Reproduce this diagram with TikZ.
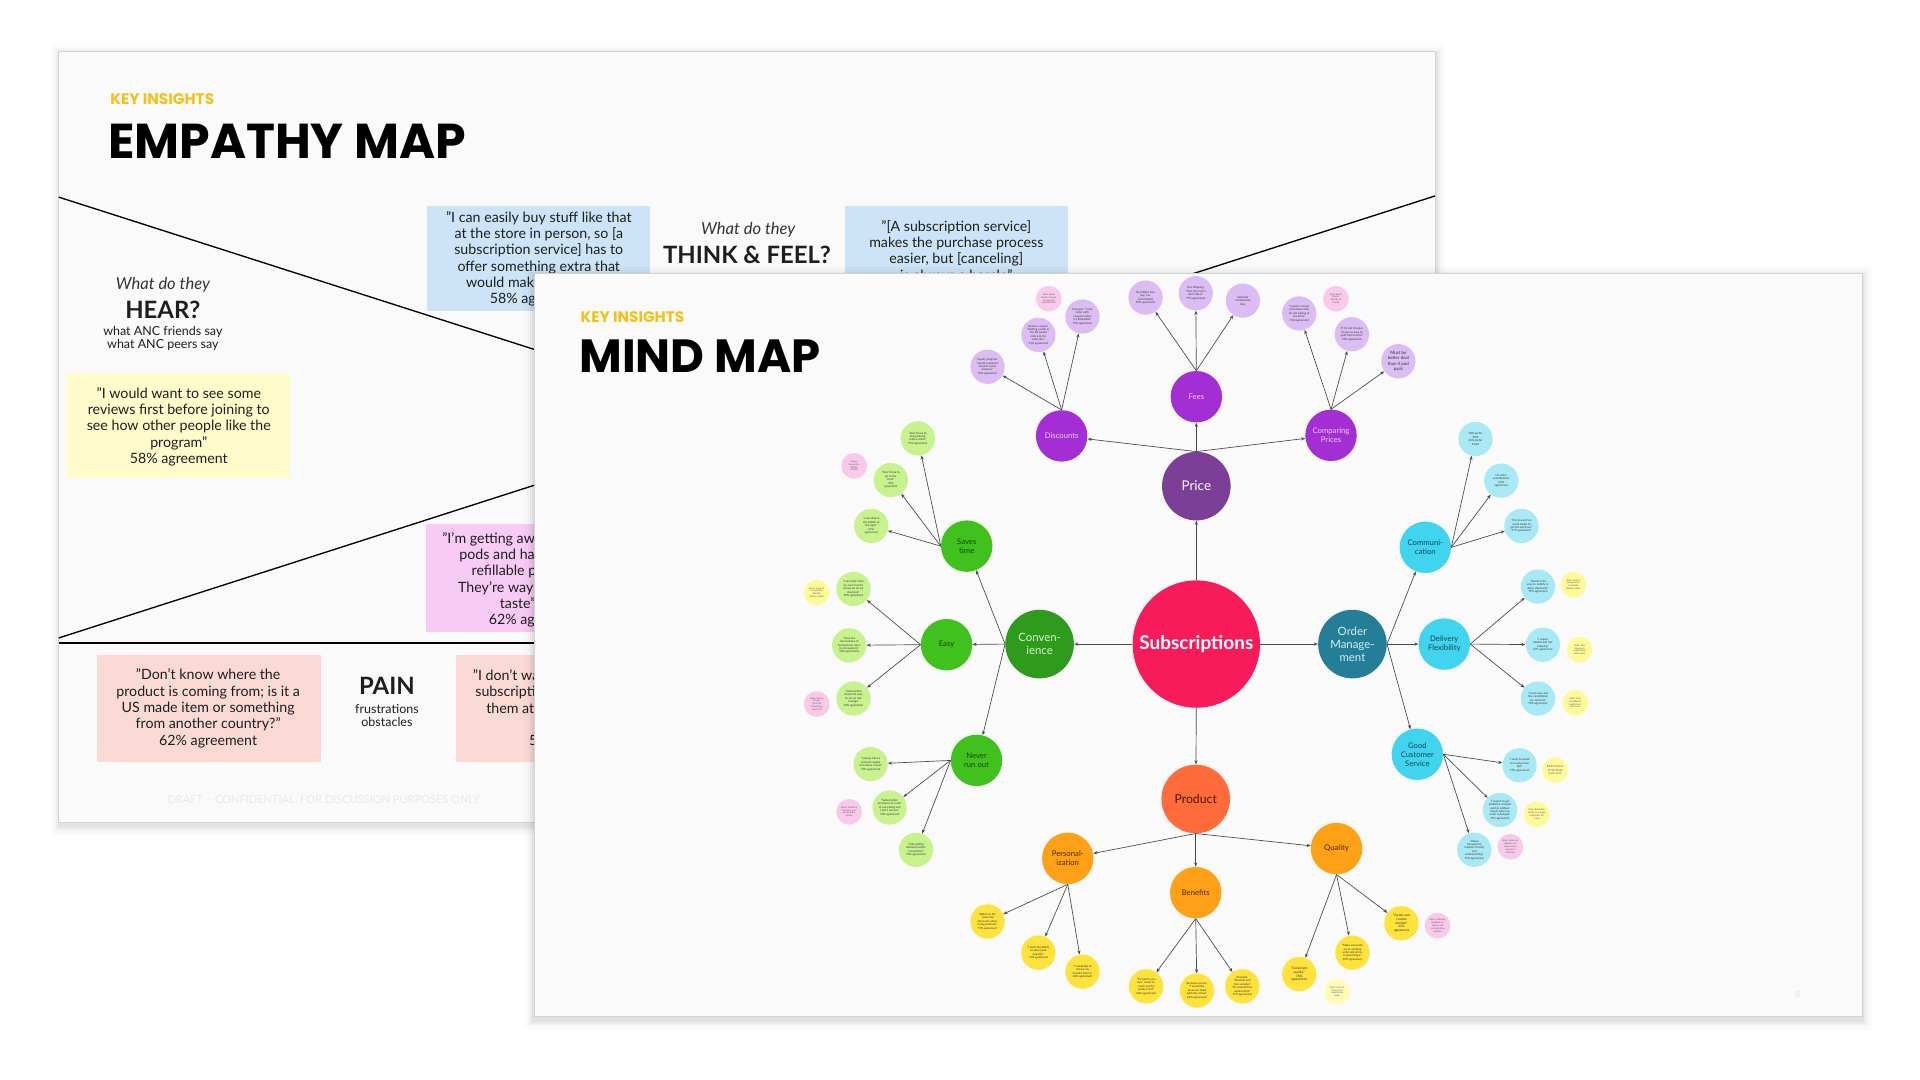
\documentclass[tikz,border=0pt]{standalone}
\usepackage{fontspec}
\setmainfont{Lato}
\newfontfamily\titlefont{Poppins}
\usetikzlibrary{arrows.meta}
\definecolor{slidebg}{HTML}{FAFAFA}
\definecolor{slideedge}{HTML}{D4D4D4}
\definecolor{keyyellow}{HTML}{F2C21B}
\definecolor{textdark}{HTML}{1E1E1E}
\definecolor{boxyellow}{HTML}{FFFBCB}
\definecolor{boxblue}{HTML}{CCE3F8}
\definecolor{boxpink}{HTML}{FBDAD6}
\definecolor{boxmagenta}{HTML}{F8CBF6}
\definecolor{drafttxt}{HTML}{E9E9E9}
\definecolor{cSub}{HTML}{F71B5B}
\definecolor{cPrice}{HTML}{7C3F97}
\definecolor{cPurple}{HTML}{A32FD4}
\definecolor{cPurpleTxt}{HTML}{EBCFF8}
\definecolor{cPurpleLeaf}{HTML}{DCBDF3}
\definecolor{cConv}{HTML}{2F9B1D}
\definecolor{cConvTxt}{HTML}{DDF6D0}
\definecolor{cGreen}{HTML}{41C11E}
\definecolor{cGreenTxt}{HTML}{124A07}
\definecolor{cGreenLeaf}{HTML}{C8F28E}
\definecolor{cOrder}{HTML}{247E97}
\definecolor{cOrderTxt}{HTML}{D3F0F7}
\definecolor{cCyan}{HTML}{40D4EE}
\definecolor{cCyanTxt}{HTML}{0C4B5A}
\definecolor{cCyanLeaf}{HTML}{A9E9F6}
\definecolor{cProduct}{HTML}{FF6B3B}
\definecolor{cProductTxt}{HTML}{4A1600}
\definecolor{cOrange}{HTML}{FFA116}
\definecolor{cOrangeTxt}{HTML}{4F2600}
\definecolor{cYellowLeaf}{HTML}{FFE23B}
\definecolor{cPink}{HTML}{F9C9EA}
\definecolor{cYellowNote}{HTML}{FFFA98}
\definecolor{cPaleNote}{HTML}{FFFBB8}
\definecolor{cEdge}{HTML}{4A4A4A}
\definecolor{leaftxt}{HTML}{333333}
\tikzset{
  slide/.style={fill=slidebg, draw=slideedge, line width=0.6pt},
  divline/.style={draw=black, line width=1.1pt},
  txt/.style={inner sep=0pt, text=textdark},
  body/.style={txt, align=center, font=\fontsize{11.6}{13.3}\selectfont},
  bodyw/.style={txt, anchor=base west, font=\fontsize{11.6}{13.3}\selectfont},
  small/.style={txt, align=center, font=\fontsize{10.2}{11}\selectfont},
  hand/.style={txt, text=black!80, font=\fontsize{13.5}{15}\itshape},
  quad/.style={txt, font=\fontsize{19.5}{21}\bfseries},
  keyins/.style={txt, anchor=west, text=keyyellow, font=\titlefont\bfseries\fontsize{12.5}{14}\selectfont},
  bigtitle/.style={txt, anchor=west, text=black, font=\titlefont\bfseries\fontsize{40}{44}\selectfont},
  mm/.style={circle, inner sep=0pt, align=center},
  lvl0/.style={mm, minimum size=104, fill=cSub, text=white, font=\fontsize{15.5}{17}\bfseries},
  lvl1/.style={mm, minimum size=56, font=\fontsize{9.3}{10.8}\selectfont},
  lvl2/.style={mm, minimum size=42, font=\fontsize{6.3}{7.4}\selectfont},
  purple2/.style={lvl2, fill=cPurple, text=cPurpleTxt},
  green2/.style={lvl2, fill=cGreen, text=cGreenTxt},
  cyan2/.style={lvl2, fill=cCyan, text=cCyanTxt},
  orange2/.style={lvl2, fill=cOrange, text=cOrangeTxt},
  leaf/.style={mm, minimum size=28, text=leaftxt, font=\fontsize{2.3}{2.8}\selectfont},
  pleaf/.style={leaf, fill=cPurpleLeaf},
  gleaf/.style={leaf, fill=cGreenLeaf},
  cleaf/.style={leaf, fill=cCyanLeaf},
  yleaf/.style={leaf, fill=cYellowLeaf},
  note/.style={mm, minimum size=21, text=leaftxt!80, font=\fontsize{1.9}{2.3}\selectfont},
  pnote/.style={note, fill=cPink},
  ynote/.style={note, fill=cYellowNote},
  wnote/.style={note, fill=cPaleNote},
  edge/.style={draw=cEdge, line width=0.55pt, -{Stealth[length=3.4pt,width=2.6pt]}},
}
\begin{document}
\begin{tikzpicture}[x=1pt,y=-1pt]
\useasboundingbox (0,0) rectangle (1568,882);
\fill[white] (0,0) rectangle (1568,882);

% ---------- Empathy map slide ----------
\foreach \d/\o in {7/0.015,5/0.02,3/0.03,1.5/0.04}{
  \fill[black,opacity=\o] (48-\d+1,42-\d+2) rectangle (1172+\d+1,672+\d+3);
}
\filldraw[slide] (48,42) rectangle (1172,672);

\draw[divline] (48,161) -- (1172,521);
\draw[divline] (48,521) -- (1172,160);
\draw[divline] (48,525) -- (1172,525);

\node[keyins] (ekey) at (90,81) {KEY INSIGHTS};
\node[bigtitle] (etitle) at (88,115) {EMPATHY MAP};

% hear
\node[hand] (hearq) at (133,233) {What do they};
\node[quad] (hear) at (133,253) {HEAR?};
\node[small] (hearsub) at (133,276.5) {what ANC friends say\\what ANC peers say};

\fill[boxyellow] (55,305) rectangle (237,390);
\node[body] (qyellow) at (146,348.5) {"I would want to see some\\reviews first before joining to\\see how other people like the\\program"\\58\% agreement};

% think & feel
\fill[boxblue] (349,168) rectangle (531,254);
\node[body] (qblue1) at (440,211.5) {"I can easily buy stuff like that\\at the store in person, so [a\\subscription service] has to\\offer something extra that\\would make it worth it"\\58\% agreement};
\node[hand] (thinkq) at (611,188) {What do they};
\node[quad] (think) at (610,208) {THINK \& FEEL?};
\fill[boxblue] (690,168) rectangle (872,254);
\node[body] (qblue2) at (781,205.5) {"[A subscription service]\\makes the purchase process\\easier, but [canceling]\\is always a hassle"};

% gain box (magenta)
\fill[boxmagenta] (348,428) rectangle (530,516);
\node[bodyw] (qm1) at (361,444) {"I'm getting away from};
\node[bodyw] (qm2) at (375,457) {pods and have a};
\node[bodyw] (qm3) at (385,470) {refillable pod.};
\node[bodyw] (qm4) at (374,484) {They're way better};
\node[bodyw] (qm5) at (408,497) {taste"};
\node[bodyw] (qm6) at (399,510) {62\% agreement};

% pain
\fill[boxpink] (79,535) rectangle (262,622);
\node[body] (qpink1) at (170,578.5) {"Don't know where the\\product is coming from; is it a\\US made item or something\\from another country?"\\62\% agreement};
\node[quad] (pain) at (316,560) {PAIN};
\node[small] (painsub) at (316,584.5) {frustrations\\obstacles};
\fill[boxpink] (372,535) rectangle (555,622);
\node[bodyw] (qp1) at (386,556) {"I don't want another};
\node[bodyw] (qp2) at (388,569) {subscription for};
\node[bodyw] (qp3) at (397,583) {them at all"};
\node[bodyw] (qp5) at (432,609) {55\% agreement};

\node[txt, text=drafttxt, font=\fontsize{9}{10}\selectfont] (draft) at (265,653) {DRAFT -- CONFIDENTIAL. FOR DISCUSSION PURPOSES ONLY.};

% ---------- Mind map slide ----------
\foreach \d/\o in {8/0.015,5/0.025,3/0.035,1.5/0.045}{
  \fill[black,opacity=\o] (436-\d,223-\d+2) rectangle (1521+\d,830+\d+3);
}
\filldraw[slide] (436,223) rectangle (1521,830);
\node[keyins] (mkey) at (474,259) {KEY INSIGHTS};
\node[bigtitle, font=\titlefont\bfseries\fontsize{38}{41}\selectfont] (mtitle) at (473,291) {MIND MAP};
\node[txt, text=black!12, font=\fontsize{7}{8}\selectfont] (pagenum) at (1468,812) {8};

% level 0 and 1
\node[lvl0] (sub) at (977,526) {Subscriptions};
\node[lvl1, fill=cPrice, text=white, font=\fontsize{11}{12}\selectfont] (price) at (977,397) {Price};
\node[lvl1, fill=cConv, text=cConvTxt] (conv) at (849,526) {Conven-\\ience};
\node[lvl1, fill=cOrder, text=cOrderTxt] (order) at (1104.5,526) {Order\\Manage-\\ment};
\node[lvl1, fill=cProduct, text=cProductTxt, font=\fontsize{10}{11}\selectfont] (product) at (976.5,652.5) {Product};

% level 2
\node[purple2] (fees) at (977,324) {Fees};
\node[purple2] (disc) at (867,356) {Discounts};
\node[purple2] (comp) at (1087,355.5) {Comparing\\Prices};
\node[green2] (saves) at (789.5,446) {Saves\\time};
\node[green2] (easy) at (773,526.5) {Easy};
\node[green2] (never) at (797.5,621) {Never\\run out};
\node[cyan2] (comm) at (1164,447) {Communi-\\cation};
\node[cyan2] (deliv) at (1179.5,526) {Delivery\\Flexibility};
\node[cyan2] (gcs) at (1157.5,616) {Good\\Customer\\Service};
\node[orange2] (pers) at (872,701) {Personal-\\ization};
\node[orange2] (ben) at (976.5,729) {Benefits};
\node[orange2] (qual) at (1091.5,693) {Quality};

% leaves: discounts
\node[pleaf] (d1) at (806.5,299.5) {Loyalty program:\\"would customers\\should receive\\bonuses"\\73\% agreement};
\node[pleaf] (d2) at (848,273.5) {Bounce coupon:\\"Getting a code or\\fee off would\\entice me to\\subscribe"\\51\% agreement};
\node[pleaf] (d3) at (884,258.5) {Coupons: "I only\\order with\\coupons when\\it's affordable"\\79\% agreement};
\node[pnote] (dn) at (856.5,244) {Note: Burst\\Brush: savings\\of coupons\\could be 10\%};
% fees
\node[pleaf] (f1) at (935.5,243) {No hidden fees\\(e.g. tax,\\cancellation)\\53\% agreement};
\node[pleaf] (f2) at (976.5,239.5) {Free Shipping:\\"Free returns if I\\don't like it"\\77\% agreement};
\node[pleaf] (f3) at (1015,245.5) {Optional\\membership\\fees};
% comparing
\node[pleaf] (c1) at (1061,256) {"I expect a lower\\price than retail\\for not paying at\\the store"\\74\% agreement};
\node[pnote] (cn) at (1091,244) {Note: Burst\\Brush:\\Savings of\\ 4 pods};
\node[pleaf] (c2) at (1104,273) {"If it's not cheaper\\it's just as easy to\\grab from Costco"\\59\% agreement};
\node[pleaf, font=\fontsize{3.6}{4.2}\selectfont] (c3) at (1142,295) {Must be\\better deal\\than 4 pod\\pack};
% saves time
\node[gleaf] (s1) at (749.5,358) {"Don't have to\\keep placing\\orders online"\\71\% agreement};
\node[gleaf] (s2) at (727.5,392) {"Don't have to\\go to the\\store"\\72\%\\agreement};
\node[gleaf] (s3) at (711.5,429.5) {"I can shop in\\the middle of\\the night"\\67\%\\agreement};
\node[pnote] (sn) at (697.5,380.5) {Image:\\Survey for\\BOPIS\\interest};
% easy
\node[gleaf] (e1) at (697,481) {"I can order from\\my couch and it\\shows up on my\\doorstep"\\69\% agreement};
\node[gleaf] (e2) at (693.5,527) {"I love the\\convenience of\\having them come\\to me regularly"\\58\% agreement};
\node[gleaf] (e3) at (697,570.5) {"Subscription\\should be easy\\to set up and\\manage"\\63\% agreement};
\node[ynote] (en1) at (667,484) {Note: 3 out of\\4 would like\\flexible\\delivery dates};
\node[pnote] (en2) at (667,575) {Note: Survey\\brands\\that had\\onboarding\\page 7/8};
% never run out
\node[gleaf] (n1) at (711,624) {"I always have a\\constant supply\\of product I need"\\73\% agreement};
\node[gleaf] (n2) at (726.5,659.5) {"Subscription\\purchases so much\\of everything and\\I don't run out"\\72\% agreement};
\node[gleaf] (n3) at (748,694) {"I like getting\\deliveries when\\I need them"\\70\% agreement};
\node[pnote] (nn) at (693.5,663) {Note: Ordering\\frequency as\\per quantity\\option};
% communication
\node[cleaf] (m1) at (1205,358.5) {38\% prefer\\SMS\\36\% prefer\\Email};
\node[cleaf] (m2) at (1226,392.5) {No order\\substitutions\\62\%\\agreement};
\node[cleaf] (m3) at (1242.5,429.5) {"Put yourself on\\social media to\\get the word out"\\57\% agreement};
% delivery
\node[cleaf] (v1) at (1256,479) {"Needs to be\\easy to modify or\\delay shipments"\\75\% agreement};
\node[cleaf] (v2) at (1260,526.5) {"I expect\\reliable and fast\\shipping"\\67\% agreement};
\node[cleaf] (v3) at (1256,570.5) {"I want easy and\\free cancellation\\no contracts"\\73\% agreement};
\node[ynote] (vn1) at (1285,477.5) {Note: 64\% of\\people want\\to modify\\delivery dates};
\node[ynote] (vn2) at (1290,530.5) {Note: Fast\\shipping is\\expected by\\most users};
\node[ynote] (vn3) at (1286.5,574) {Note: Free\\cancellation\\builds trust\\with users};
% good customer service
\node[cleaf] (g1) at (1241,625) {"I want to speak\\to a real person\\fast"\\77\% agreement};
\node[ynote, font=\fontsize{2.3}{2.8}\selectfont] (gn1) at (1270,629) {82.4\% Phone\\15.4\% Email\\2.2\% Chat};
\node[cleaf] (g2) at (1225,661.5) {"I expect to get\\problems resolved\\quickly without\\hassle when an\\order is delayed"\\74\% agreement};
\node[ynote] (gn2) at (1255,665) {Note: Retention\\builds to average\\subscriber for\\1 year};
\node[cleaf] (g3) at (1204,694) {"Values\\transparent,\\reliable, friendly\\and\\understanding"\\75\% agreement};
\node[pnote] (gn3) at (1233.5,691.5) {Note: Survey of\\members on\\values when\\service is\\effective};
% personalization
\node[yleaf] (p1) at (806.5,752.5) {Welcome kit:\\"potential\\discounts when\\trying products"\\71\% agreement};
\node[yleaf] (p2) at (848,778) {"I want the ability\\to select pod\\quantity"\\71\% agreement};
\node[yleaf] (p3) at (884,793.5) {"I would like to\\choose my\\favorite flavors"\\64\% agreement};
% benefits
\node[yleaf] (b1) at (936,805.5) {"Try before you\\buy: I want to\\check out the\\product first"\\66\% agreement};
\node[yleaf] (b2) at (977.5,809) {Exclusive access:\\"I would like\\access to deals\\sold only online"\\64\% agreement};
\node[yleaf] (b3) at (1014.5,805.5) {Rewards:\\"Rewards and\\free samples"\\"Occasional free\\replacement"\\71\% agreement};
% quality
\node[yleaf, font=\fontsize{2.7}{3.2}\selectfont] (q1) at (1061,795.5) {"Consistent\\quality"\\76\%\\agreement};
\node[yleaf] (q2) at (1104.5,778) {"Make sure pods\\are in working\\order and arrive\\in good shape"\\69\% agreement};
\node[yleaf, font=\fontsize{2.6}{3.1}\selectfont] (q3) at (1144.5,754) {"Variety and\\custom\\solution"\\64\%\\agreement};
\node[wnote] (qn1) at (1092,810) {Note: 3 out of\\4 buy from\\same brand\\again};
\node[pnote] (qn2) at (1174,756) {Note: Ordering\\feedback on\\quality and\\customization\\options};

% ---------- connectors ----------
\draw[edge] (sub.north) -- (price);
\draw[edge] (sub.west) -- (conv);
\draw[edge] (sub.east) -- (order);
\draw[edge] (sub.south) -- (product);

\foreach \c in {fees,disc,comp} \draw[edge] (price.north) -- (\c);
\foreach \c in {saves,easy,never} \draw[edge] (conv.west) -- (\c);
\foreach \c in {comm,deliv,gcs} \draw[edge] (order.east) -- (\c);
\foreach \c in {pers,ben,qual} \draw[edge] (product.south) -- (\c);

\foreach \c in {d1,d2,d3} \draw[edge] (disc.north) -- (\c);
\foreach \c in {f1,f2,f3} \draw[edge] (fees.north) -- (\c);
\foreach \c in {c1,c2,c3} \draw[edge] (comp.north) -- (\c);
\foreach \c in {s1,s2,s3} \draw[edge] (saves.west) -- (\c);
\foreach \c in {e1,e2,e3} \draw[edge] (easy.west) -- (\c);
\foreach \c in {n1,n2,n3} \draw[edge] (never.west) -- (\c);
\foreach \c in {m1,m2,m3} \draw[edge] (comm.east) -- (\c);
\foreach \c in {v1,v2,v3} \draw[edge] (deliv.east) -- (\c);
\foreach \c in {g1,g2,g3} \draw[edge] (gcs.east) -- (\c);
\foreach \c in {p1,p2,p3} \draw[edge] (pers.south) -- (\c);
\foreach \c in {b1,b2,b3} \draw[edge] (ben.south) -- (\c);
\foreach \c in {q1,q2,q3} \draw[edge] (qual.south) -- (\c);
\end{tikzpicture}
\end{document}
